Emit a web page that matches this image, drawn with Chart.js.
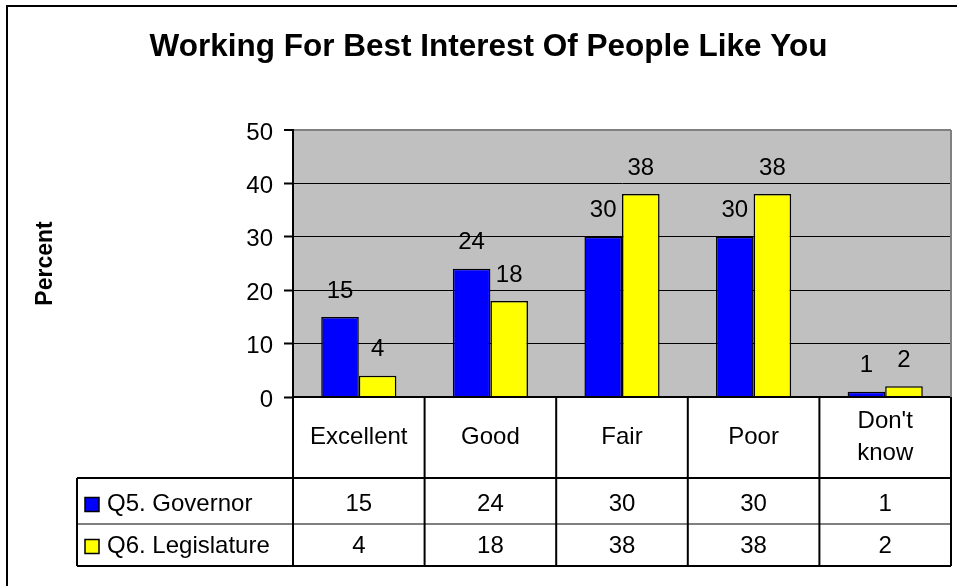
<!DOCTYPE html>
<html>
<head>
<meta charset="utf-8">
<script src="https://cdn.jsdelivr.net/npm/chart.js@4.4.1/dist/chart.umd.min.js"></script>
<style>
  html, body { margin: 0; padding: 0; background: #fff; }
  #wrap { width: 957px; height: 586px; }
</style>
</head>
<body>
<div id="wrap"><canvas id="chart" width="957" height="586"></canvas></div>
<script>
const categories = ["Excellent", "Good", "Fair", "Poor", ["Don't", "know"]];
const governor = [15, 24, 30, 30, 1];
const legislature = [4, 18, 38, 38, 2];
const seriesNames = ["Q5. Governor", "Q6. Legislature"];
const seriesColors = ["#0000ff", "#ffff00"];

const FONT = "'Liberation Sans', Arial, sans-serif";
const ctx = document.getElementById("chart").getContext("2d");

// grey plot background + outer frame
const frame = {
  id: "frame",
  beforeDraw(chart) {
    const { ctx, chartArea: a } = chart;
    ctx.save();
    ctx.fillStyle = "#fff";
    ctx.fillRect(0, 0, chart.width, chart.height);
    ctx.fillStyle = "#c0c0c0";
    ctx.fillRect(a.left, a.top, a.right - a.left, a.bottom - a.top);
    ctx.restore();
  },
  afterDraw(chart) {
    const { ctx, chartArea: a } = chart;
    ctx.save();
    ctx.strokeStyle = "#808080";
    ctx.lineWidth = 2;
    ctx.beginPath();
    ctx.moveTo(a.right, a.top);
    ctx.lineTo(a.right, a.bottom);
    ctx.stroke();
    ctx.strokeStyle = "#000";
    ctx.beginPath();
    ctx.moveTo(7, chart.height);
    ctx.lineTo(7, 6);
    ctx.lineTo(chart.width, 6);
    ctx.stroke();
    ctx.restore();
  },
};

// value labels above bars, axis line drawn over bar bottoms
const barLabels = {
  id: "barLabels",
  afterDatasetsDraw(chart) {
    const { ctx, chartArea: a, scales: { y } } = chart;
    ctx.save();
    ctx.strokeStyle = "#000";
    ctx.lineWidth = 2;
    ctx.beginPath();
    ctx.moveTo(a.left, y.getPixelForValue(0));
    ctx.lineTo(a.right, y.getPixelForValue(0));
    ctx.stroke();
    ctx.fillStyle = "#000";
    ctx.font = "24px " + FONT;
    ctx.textAlign = "center";
    ctx.textBaseline = "middle";
    chart.data.datasets.forEach((ds, di) => {
      chart.getDatasetMeta(di).data.forEach((bar, i) => {
        ctx.fillText(String(ds.data[i]), bar.x, bar.y - 26);
      });
    });
    ctx.restore();
  },
};

// data table under the plot, columns taken from the x scale
const dataTable = {
  id: "dataTable",
  afterDraw(chart) {
    const { ctx, chartArea: a, scales: { x } } = chart;
    const step = (a.right - a.left) / categories.length;
    const edges = categories.map((_, i) => x.getPixelForValue(i) - step / 2);
    edges.push(x.getPixelForValue(categories.length - 1) + step / 2);
    const top = a.bottom;
    const headBottom = top + 81;
    const rowSep = top + 127;
    const bottom = top + 169;
    const tableLeft = 77;
    const rowMid = [top + 107.5, top + 149.5];

    ctx.save();
    ctx.strokeStyle = "#000";
    ctx.lineWidth = 2;
    ctx.beginPath();
    edges.forEach((ex) => {
      ctx.moveTo(ex, top);
      ctx.lineTo(ex, bottom);
    });
    ctx.moveTo(tableLeft, headBottom);
    ctx.lineTo(tableLeft, bottom);
    ctx.moveTo(tableLeft, headBottom);
    ctx.lineTo(edges[edges.length - 1], headBottom);
    ctx.moveTo(tableLeft, bottom);
    ctx.lineTo(edges[edges.length - 1], bottom);
    ctx.stroke();
    ctx.lineWidth = 1;
    ctx.beginPath();
    ctx.moveTo(tableLeft, rowSep);
    ctx.lineTo(edges[edges.length - 1], rowSep);
    ctx.stroke();

    ctx.fillStyle = "#000";
    ctx.font = "24px " + FONT;
    ctx.textAlign = "center";
    ctx.textBaseline = "middle";
    categories.forEach((c, i) => {
      const cx = x.getPixelForValue(i);
      if (Array.isArray(c)) {
        ctx.fillText(c[0], cx, top + 24);
        ctx.fillText(c[1], cx, top + 56);
      } else {
        ctx.fillText(c, cx, top + 40);
      }
    });
    chart.data.datasets.forEach((ds, di) => {
      ds.data.forEach((v, i) => {
        ctx.fillText(String(v), x.getPixelForValue(i), rowMid[di]);
      });
    });

    ctx.textAlign = "left";
    ctx.lineWidth = 1.5;
    seriesNames.forEach((name, di) => {
      const cy = rowMid[di];
      ctx.fillStyle = seriesColors[di];
      ctx.fillRect(85, cy - 7, 14, 14);
      ctx.strokeRect(85, cy - 7, 14, 14);
      ctx.fillStyle = "#000";
      ctx.fillText(name, 107, cy);
    });
    ctx.restore();
  },
};

new Chart(ctx, {
  type: "bar",
  data: {
    labels: categories,
    datasets: [
      {
        label: seriesNames[0],
        data: governor,
        backgroundColor: seriesColors[0],
        borderColor: "#000",
        borderWidth: 1.5,
      },
      {
        label: seriesNames[1],
        data: legislature,
        backgroundColor: seriesColors[1],
        borderColor: "#000",
        borderWidth: 1.5,
      },
    ],
  },
  options: {
    responsive: false,
    animation: false,
    devicePixelRatio: 1,
    layout: { padding: { left: 26, right: 6, top: 0, bottom: 189 } },
    datasets: { bar: { barPercentage: 1, categoryPercentage: 0.571 } },
    plugins: {
      legend: { display: false },
      tooltip: { enabled: false },
      title: {
        display: true,
        text: "Working For Best Interest Of People Like You",
        color: "#000",
        font: { family: FONT, size: 31.5, weight: "bold" },
        padding: { top: 28, bottom: 64.2 },
      },
    },
    scales: {
      x: { display: false },
      y: {
        min: 0,
        max: 50,
        afterFit(scale) {
          scale.width = 267;
        },
        ticks: {
          stepSize: 10,
          color: "#000",
          font: { family: FONT, size: 24 },
          padding: 11,
          labelOffset: 3,
        },
        grid: {
          color: (c) => (c.tick && c.tick.value === 50 ? "#808080" : c.tick && c.tick.value === 0 ? "rgba(0,0,0,0)" : "#000"),
          lineWidth: (c) => (c.tick && c.tick.value === 50 ? 2 : 1),
          tickColor: "#000",
          tickLength: 9,
          tickWidth: 2,
        },
        border: { display: true, color: "#000", width: 2 },
        title: {
          display: true,
          text: "Percent",
          color: "#000",
          font: { family: FONT, size: 23, weight: "bold" },
          padding: { top: 6, bottom: 0 },
        },
      },
    },
  },
  plugins: [frame, barLabels, dataTable],
});
</script>
</body>
</html>
